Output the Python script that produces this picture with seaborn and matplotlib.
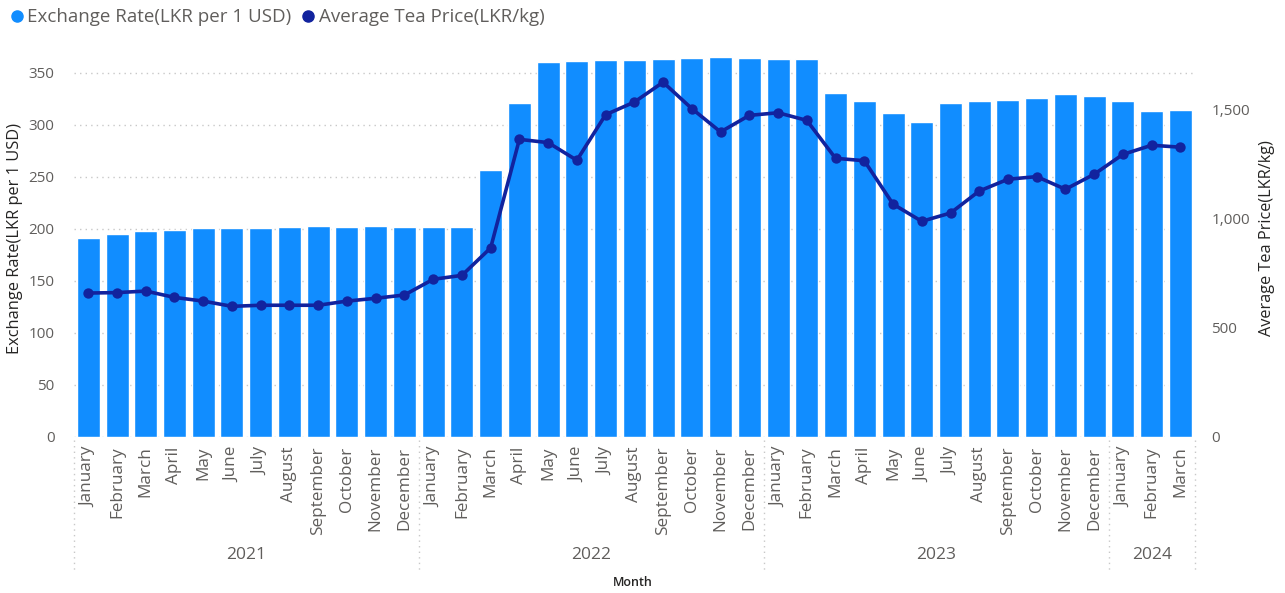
import numpy as np
import pandas as pd
import matplotlib
matplotlib.use("Agg")
import matplotlib.pyplot as plt
from matplotlib.lines import Line2D
from matplotlib.ticker import FuncFormatter
import seaborn as sns

months = ["January", "February", "March", "April", "May", "June", "July",
          "August", "September", "October", "November", "December"]
years = ["2021", "2022", "2023", "2024"]
year_month_counts = [12, 12, 12, 3]

exchange_rate = [191.2, 194.8, 197.7, 198.3, 200.3, 200.6, 200.9, 201.2, 202.8, 201.8, 202.5, 201.8,
                 201.8, 201.8, 256.6, 320.7, 360.0, 361.3, 362.0, 362.0, 363.3, 364.2, 364.5, 364.2,
                 363.3, 363.0, 330.6, 322.6, 311.4, 302.4, 320.4, 322.6, 323.9, 325.8, 329.3, 327.7,
                 322.3, 312.9, 314.2]
tea_price = [659, 661, 668, 639, 622, 598, 603, 603, 603, 622, 635, 650,
             722, 740, 866, 1364, 1349, 1268, 1477, 1535, 1626, 1505, 1398, 1474,
             1486, 1451, 1277, 1266, 1067, 988, 1026, 1127, 1181, 1193, 1135, 1204,
             1295, 1337, 1328]

left_ticks = [0, 50, 100, 150, 200, 250, 300, 350]
right_ticks = [0, 500, 1000, 1500]

month_labels = []
year_col = []
for y, n in zip(years, year_month_counts):
    month_labels += months[:n]
    year_col += [y] * n
df = pd.DataFrame({
    "period": [f"{y}-{m}" for y, m in zip(year_col, month_labels)],
    "month": month_labels,
    "year": year_col,
    "rate": exchange_rate,
    "tea": tea_price,
})

BAR = "#118DFF"
LINE = "#12239E"
GRAY = "#605E5C"
DARK = "#252423"
FONT = "Open Sans"

sns.set_theme(style="white")
plt.rcParams["font.family"] = [FONT, "DejaVu Sans"]

W, H = 1285, 593
fig = plt.figure(figsize=(W / 100, H / 100), dpi=100)
x0, x1 = 73.9, 1194.8
base, top = 436.7, 51.7
w_ax = x1 - x0
h_ax = base - top
ax = fig.add_axes([x0 / W, (H - base) / H, w_ax / W, h_ax / H])

sns.barplot(data=df, x="period", y="rate", color=BAR, width=0.8, ax=ax,
            saturation=1, zorder=2)

ax2 = ax.twinx()
sns.pointplot(data=df, x="period", y="tea", color=LINE, ax=ax2, markers="o",
              markersize=5.5, linewidth=2.6, zorder=3)

ax.set_ylim(0, 370)
ax.set_xlim(-0.5, len(df) - 0.5)
ax.set_yticks(left_ticks)
ax.grid(axis="y", color="#C8C8C8", linestyle=(0, (1, 3)), linewidth=1, zorder=0)
ax.set_axisbelow(True)
for s in ax.spines.values():
    s.set_visible(False)
ax.tick_params(axis="y", length=0, labelsize=11, labelcolor=GRAY, pad=14)
ax.set_xticks(range(len(df)))
ax.set_xticklabels(df["month"], rotation=90, fontsize=12.3, color=GRAY)
ax.tick_params(axis="x", length=0, pad=7)
ax.set_xlabel("")
ax.set_ylabel("Exchange Rate(LKR per 1 USD)", fontsize=11.8, color=DARK)
ax.yaxis.label.set_va("center")
ax.yaxis.set_label_coords((15 - x0) / w_ax, (base - 238) / h_ax)

ax2.set_ylim(0, 385 / 0.218)
ax2.set_yticks(right_ticks)
ax2.yaxis.set_major_formatter(FuncFormatter(lambda v, p: f"{int(v):,}"))
ax2.tick_params(axis="y", length=0, labelsize=11, labelcolor=GRAY, pad=12)
ax2.tick_params(axis="x", length=0, labelbottom=False)
ax2.grid(False)
for s in ax2.spines.values():
    s.set_visible(False)
ax2.set_ylabel("Average Tea Price(LKR/kg)", fontsize=11.7, color=DARK)
ax2.yaxis.label.set_va("center")
ax2.yaxis.set_label_coords((1267 - x0) / w_ax, (base - 238) / h_ax)
ax2.set_xlabel("")

# year groups
trans = ax.get_xaxis_transform()
start = 0
bounds = [-0.5]
for y, n in zip(years, year_month_counts):
    center = start + (n - 1) / 2
    ax.text(center, -(555 - base) / h_ax, y, transform=trans, ha="center",
            va="center", fontsize=12.5, color=GRAY)
    start += n
    bounds.append(start - 0.5)
for b in bounds:
    ax.plot([b, b], [-(440 - base) / h_ax, -(572 - base) / h_ax], transform=trans,
            color="#C8C8C8", linestyle=(0, (1, 3)), linewidth=1, clip_on=False)

fig.text(633 / W, 1 - 582 / H, "Month", ha="center", va="center", fontsize=9,
         color=DARK, fontweight="semibold")

handles = [Line2D([], [], marker="o", linestyle="", color=BAR, markersize=8),
           Line2D([], [], marker="o", linestyle="", color=LINE, markersize=8)]
fig.legend(handles, ["Exchange Rate(LKR per 1 USD)", "Average Tea Price(LKR/kg)"],
           loc="upper left", bbox_to_anchor=(0.0, 1.005), ncol=2, frameon=False,
           fontsize=13.5, handlelength=0.6, handletextpad=0.25, columnspacing=0.6,
           labelcolor=GRAY, borderaxespad=0.2)

fig.savefig("out.png", dpi=100, facecolor="white")
